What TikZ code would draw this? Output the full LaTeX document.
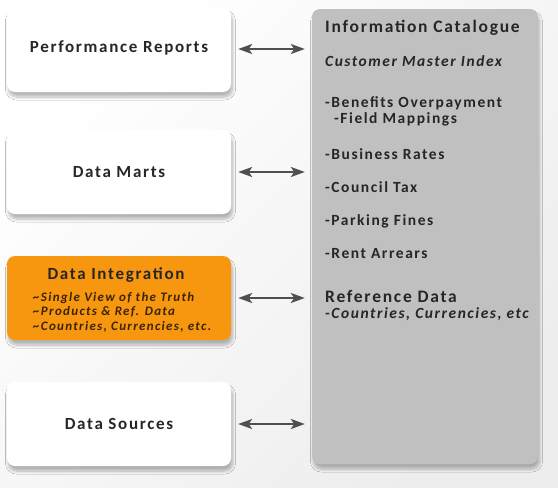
\documentclass[tikz,border=0pt]{standalone}
\usepackage{fontspec}
\setmainfont{Carlito}[LetterSpace=10]
\usetikzlibrary{shadows.blur,arrows.meta}
\definecolor{txt}{HTML}{262626}
\definecolor{orng}{HTML}{F7960F}
\definecolor{catgray}{HTML}{C0C0C0}
\definecolor{arr}{HTML}{4F4F4F}
\definecolor{brown}{HTML}{3B2506}
\tikzset{
  box/.style={rounded corners=8pt, fill=white, minimum width=224pt, minimum height=84pt,
    inner sep=0pt, text=txt, font=\fontsize{17}{20}\selectfont\bfseries,
    blur shadow={shadow xshift=1.5pt, shadow yshift=-5pt, shadow blur steps=8, shadow blur radius=3pt, shadow opacity=28}},
  cattxt/.style={anchor=west, inner sep=0pt, text=txt, font=\fontsize{15.5}{18}\selectfont\bfseries},
  link/.style={{Stealth[length=14pt,width=10pt,inset=3.5pt]}-{Stealth[length=14pt,width=10pt,inset=3.5pt]}, draw=arr, line width=2.2pt}
}
\begin{document}
\begin{tikzpicture}[x=1pt,y=-1pt]
\useasboundingbox (0,0) rectangle (558,488);
\shade[left color=white, right color=gray!14, shading angle=45] (0,0) rectangle (558,488);
\node[box] (pr) at (119,50) {\raisebox{6pt}{Performance Reports}};
\node[box] (dm) at (119,172) {Data Marts};
\node[box, fill=orng] (di) at (119,298) {};
\node[box] (ds) at (119,424) {Data Sources};
\node[box, fill=catgray, minimum width=226pt, minimum height=455pt] (cat) at (425,236.5) {};

\node[inner sep=0pt, text=txt, font=\fontsize{17}{20}\selectfont\bfseries] (dit) at (116,275) {Data Integration};
\node[inner sep=0pt, anchor=west, text=brown, font=\fontsize{13}{14.6}\selectfont\bfseries\itshape, align=left] (dis) at (33,312)
  {\textasciitilde Single View of the Truth\\\textasciitilde Products \& Ref. Data\\\textasciitilde Countries, Currencies, etc.};

\node[cattxt, font=\fontsize{17.5}{20}\selectfont\bfseries] (c1) at (325,28) {Information Catalogue};
\node[cattxt, font=\fontsize{15.5}{18}\selectfont\bfseries\itshape] (c2) at (325,61) {Customer Master Index};
\node[cattxt] (c3) at (325,103) {-Benefits Overpayment};
\node[cattxt] (c4) at (334,119) {-Field Mappings};
\node[cattxt] (c5) at (325,154) {-Business Rates};
\node[cattxt] (c6) at (325,187) {-Council Tax};
\node[cattxt] (c7) at (325,221) {-Parking Fines};
\node[cattxt] (c8) at (325,254) {-Rent Arrears};
\node[cattxt, font=\fontsize{17.5}{20}\selectfont\bfseries] (c9) at (325,296) {Reference Data};
\node[cattxt, font=\fontsize{15.5}{18}\selectfont\bfseries\itshape] (c10) at (325,314) {-Countries, Currencies, etc};

\draw[link, shorten <=7pt, shorten >=7pt] ([yshift=1pt]pr.east) -- ([yshift=1pt]pr.east -| cat.west);
\draw[link, shorten <=7pt, shorten >=7pt] (dm.east) -- (dm.east -| cat.west);
\draw[link, shorten <=7pt, shorten >=7pt] (di.east) -- (di.east -| cat.west);
\draw[link, shorten <=7pt, shorten >=7pt] (ds.east) -- (ds.east -| cat.west);
\end{tikzpicture}
\end{document}
